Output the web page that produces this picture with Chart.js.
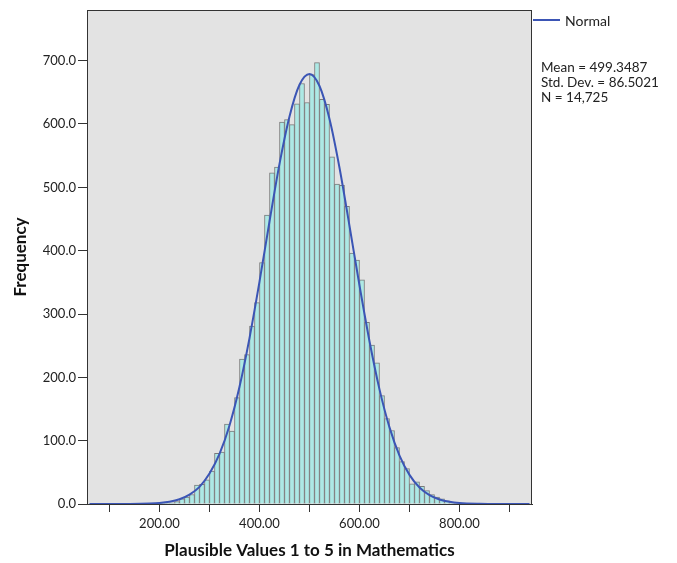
<!DOCTYPE html>
<html>
<head>
<meta charset="utf-8">
<script src="https://cdn.jsdelivr.net/npm/chart.js@4.4.0/dist/chart.umd.min.js"></script>
<style>
  body { margin: 0; background: #fff; }
</style>
</head>
<body>
<canvas id="chart" width="677" height="563"></canvas>
<script>
// histogram bins (lower edge, width 10)
const binStarts = [200, 210, 220, 230, 240, 250, 260, 270, 280, 290,
                   300, 310, 320, 330, 340, 350, 360, 370, 380, 390,
                   400, 410, 420, 430, 440, 450, 460, 470, 480, 490,
                   500, 510, 520, 530, 540, 550, 560, 570, 580, 590,
                   600, 610, 620, 630, 640, 650, 660, 670, 680, 690,
                   700, 710, 720, 730, 740, 750, 760, 770, 780, 790];
const frequencies = [1, 1, 2, 4, 8, 11, 15, 30, 31, 38,
                     52, 80, 82, 126, 115, 168, 229, 236, 281, 318,
                     381, 456, 523, 532, 603, 607, 599, 632, 664, 634,
                     678, 697, 639, 631, 548, 505, 503, 470, 396, 385,
                     354, 287, 251, 223, 171, 135, 116, 89, 67, 56,
                     32, 35, 28, 21, 15, 11, 8, 5, 2, 1];
const binWidth = 10;

// normal curve
const curveX = [60, 100, 140, 180, 200, 220, 240, 260, 280, 300, 320, 340, 360, 380, 400,
                420, 440, 460, 480, 500, 520, 540, 560, 580, 600, 620, 640, 660, 680,
                700, 720, 740, 760, 780, 800, 840, 880, 940];
const curveY = [0, 0, 0.1, 0.8, 1.7, 3.6, 7.5, 14.7, 27, 48, 79, 124, 185, 262, 351,
                446, 537, 612, 662, 679, 660, 608, 531, 439, 345, 257, 181, 121, 76.5,
                46, 26, 14, 7.2, 3.5, 1.6, 0.3, 0, 0];

const xTicks = [100, 200, 300, 400, 500, 600, 700, 800, 900];
const yTicks = [0, 100, 200, 300, 400, 500, 600, 700];
const statLines = ['Mean = 499.3487', 'Std. Dev. = 86.5021', 'N = 14,725'];

const FONT = 'Lato, "Open Sans", sans-serif';
const curveColor = '#3b55b5';

const framePlugin = {
    id: 'frame',
    beforeDraw(chart) {
        const a = chart.chartArea;
        const ctx = chart.ctx;
        ctx.save();
        ctx.fillStyle = '#e3e3e3';
        ctx.fillRect(a.left, a.top, a.right - a.left, a.bottom - a.top);
        ctx.restore();
    },
    afterDraw(chart) {
        const a = chart.chartArea;
        const ctx = chart.ctx;
        ctx.save();
        ctx.strokeStyle = '#333';
        ctx.lineWidth = 1;
        ctx.strokeRect(a.left + 0.5, a.top + 0.5, a.right - a.left - 1, a.bottom - a.top);

        // legend
        ctx.strokeStyle = curveColor;
        ctx.lineWidth = 2;
        ctx.beginPath();
        ctx.moveTo(a.right + 1, 20);
        ctx.lineTo(a.right + 28, 20);
        ctx.stroke();
        ctx.fillStyle = '#222';
        ctx.font = '14px ' + FONT;
        ctx.textBaseline = 'middle';
        ctx.fillText('Normal', a.right + 33, 21);

        ctx.font = '13.5px ' + FONT;
        statLines.forEach((t, i) => {
            ctx.fillText(t, a.right + 9, 68 + i * 15);
        });
        ctx.restore();
    }
};

const ctx = document.getElementById('chart').getContext('2d');
new Chart(ctx, {
    data: {
        datasets: [{
            type: 'line',
            label: 'Normal',
            data: curveX.map((x, i) => ({x: x, y: curveY[i]})),
            borderColor: curveColor,
            borderWidth: 2,
            pointRadius: 0,
            cubicInterpolationMode: 'monotone',
            fill: false,
            order: 0
        }, {
            type: 'bar',
            label: 'Frequency',
            data: binStarts.map((b, i) => ({x: b + binWidth / 2, y: frequencies[i]})),
            backgroundColor: '#ade9e5',
            borderColor: '#7a7a7a',
            borderWidth: {left: 1, right: 1, top: 1, bottom: 0},
            borderSkipped: false,
            barPercentage: 1,
            categoryPercentage: 1,
            order: 1
        }]
    },
    options: {
        responsive: false,
        animation: false,
        layout: {
            padding: {left: 0, right: 145, top: 10, bottom: 0}
        },
        plugins: {
            legend: {display: false},
            tooltip: {enabled: false}
        },
        scales: {
            x: {
                type: 'linear',
                offset: false,
                min: 55,
                max: 945,
                afterBuildTicks: s => { s.ticks = xTicks.map(v => ({value: v})); },
                afterFit: s => { s.height = 59; },
                grid: {
                    offset: false,
                    drawOnChartArea: false,
                    drawTicks: true,
                    tickLength: 8,
                    tickColor: '#333'
                },
                border: {display: true, color: '#333', width: 1},
                ticks: {
                    autoSkip: false,
                    maxRotation: 0,
                    padding: 4,
                    color: '#222',
                    font: {family: FONT, size: 13},
                    callback: v => (v % 200 === 0 ? v.toFixed(2) : '')
                },
                title: {
                    display: true,
                    text: 'Plausible Values 1 to 5 in Mathematics',
                    color: '#111',
                    font: {family: FONT, size: 17, weight: 'bold'},
                    padding: {top: 0, bottom: 2}
                }
            },
            y: {
                type: 'linear',
                min: 0,
                max: 780,
                afterBuildTicks: s => { s.ticks = yTicks.map(v => ({value: v})); },
                afterFit: s => { s.width = 87; },
                grid: {
                    drawOnChartArea: false,
                    drawTicks: true,
                    tickLength: 9,
                    tickColor: '#333'
                },
                border: {display: true, color: '#333', width: 1},
                ticks: {
                    padding: 2,
                    color: '#222',
                    font: {family: FONT, size: 13},
                    callback: v => v.toFixed(1)
                },
                title: {
                    display: true,
                    text: 'Frequency',
                    color: '#111',
                    font: {family: FONT, size: 17, weight: 'bold'},
                    padding: {top: 10, bottom: 0}
                }
            }
        }
    },
    plugins: [framePlugin]
});
</script>
</body>
</html>
